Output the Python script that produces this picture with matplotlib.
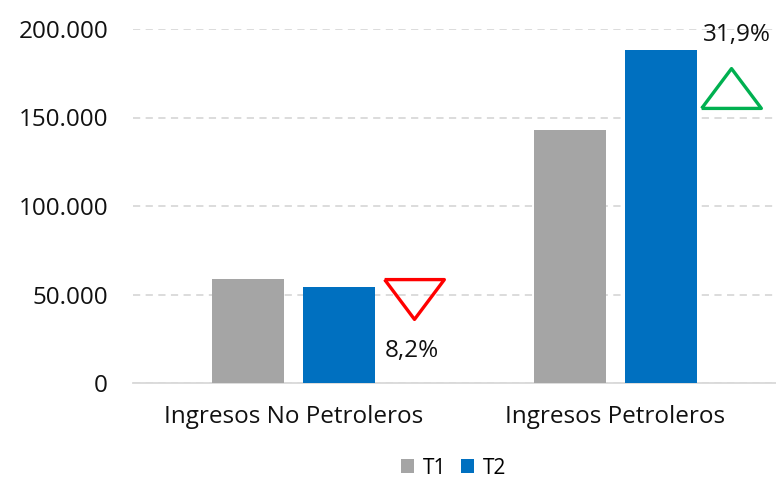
import matplotlib
matplotlib.use("Agg")
import matplotlib.pyplot as plt
import numpy as np
from matplotlib.ticker import FuncFormatter

# data
categories = ["Ingresos No Petroleros", "Ingresos Petroleros"]
t1_values = [59000, 142800]
t2_values = [54200, 188400]
series_names = ["T1", "T2"]
change_labels = ["8,2%", "31,9%"]
change_up = [False, True]

plt.rcParams["font.family"] = ["Open Sans", "DejaVu Sans"]

fig = plt.figure(figsize=(7.76, 4.78), dpi=100)
ax = fig.add_axes([133 / 776, 95 / 478, 643 / 776, 354 / 478])

x = np.arange(len(categories))
w = 0.224
off = 0.141
ax.bar(x - off, t1_values, w, color="#A5A5A5", label=series_names[0], zorder=3)
ax.bar(x + off, t2_values, w, color="#0070C0", label=series_names[1], zorder=3)

# triangle markers showing the change between T1 and T2
down_tri = [(-1.5, 1), (1.5, 1), (0, -1), (-1.5, 1)]
up_tri = [(-1.5, -1), (1.5, -1), (0, 1), (-1.5, -1)]
for i, lab in enumerate(change_labels):
    tx = x[i] + off + 0.222
    top = max(t1_values[i], t2_values[i])
    if change_up[i]:
        ax.plot(tx - 0.003, top - 22000, marker=up_tri, markersize=43, markerfacecolor="none",
                markeredgecolor="#00B050", markeredgewidth=2.4, clip_on=False, zorder=4)
        ax.text(tx + 0.016, top + 8000, lab, ha="center", va="center", fontsize=17.5, color="#111111")
    else:
        ax.plot(tx + 0.01, t2_values[i] - 6500, marker=down_tri, markersize=43, markerfacecolor="none",
                markeredgecolor="#FF0000", markeredgewidth=2.4, clip_on=False, zorder=4)
        ax.text(tx + 0.003, t2_values[i] - 36000, lab, ha="center", va="center", fontsize=17.5, color="#111111")

ax.set_xlim(-0.5, 1.5)
ax.set_ylim(0, 200000)
ax.set_yticks([0, 50000, 100000, 150000, 200000])
ax.yaxis.set_major_formatter(FuncFormatter(lambda v, p: f"{int(v):,}".replace(",", ".")))
ax.set_xticks(x)
ax.set_xticklabels(categories)
ax.tick_params(axis="both", length=0, labelsize=17.5, colors="#111111")
ax.tick_params(axis="x", pad=16)
ax.tick_params(axis="y", pad=18)

ax.grid(axis="y", color="#D9D9D9", linestyle=(0, (4, 3)), linewidth=1.3, zorder=0)
for s in ["top", "right", "left"]:
    ax.spines[s].set_visible(False)
ax.spines["bottom"].set_color("#D9D9D9")
ax.spines["bottom"].set_linewidth(1.3)

fig.legend(loc="center", bbox_to_anchor=(0.584, 10 / 478), ncol=2, frameon=False,
           fontsize=15, handlelength=0.65, handleheight=0.65, handletextpad=0.4, columnspacing=0.7)

plt.savefig("out.png", dpi=100)
plt.close()
